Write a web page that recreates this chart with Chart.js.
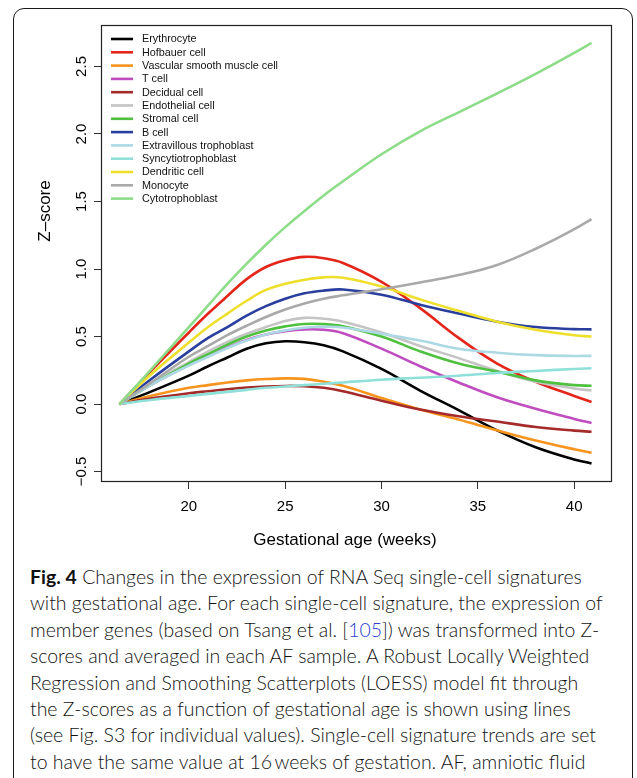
<!DOCTYPE html>
<html>
<head>
<meta charset="utf-8">
<script src="https://cdn.jsdelivr.net/npm/chart.js@4/dist/chart.umd.min.js"></script>
<style>
  html, body { margin: 0; padding: 0; background: #fff; }
  body { width: 637px; height: 778px; position: relative; overflow: hidden; }
  #frame {
    position: absolute; left: 13px; top: 8px; width: 620px; height: 820px;
    border: 1.5px solid #1a1a1a; border-radius: 11px; box-sizing: border-box;
  }
  #chartBox { position: absolute; left: 0; top: 0; width: 637px; height: 560px; }
  #caption {
    position: absolute; left: 30px; top: 564px;
    font-family: Lato, "Open Sans", sans-serif; font-weight: 300; color: #111;
    line-height: 26.4px; white-space: nowrap;
  }
  #caption b { font-weight: 700; }
  #caption .ref { color: #2a3fd0; }
</style>
</head>
<body>
<div id="frame"></div>
<div id="chartBox"><canvas id="chart" width="637" height="560"></canvas></div>
<div id="caption">
  <div class="ln"><b>Fig. 4</b> Changes in the expression of RNA Seq single-cell signatures</div>
  <div class="ln">with gestational age. For each single-cell signature, the expression of</div>
  <div class="ln">member genes (based on Tsang et al. [<span class="ref">105</span>]) was transformed into Z-</div>
  <div class="ln">scores and averaged in each AF sample. A Robust Locally Weighted</div>
  <div class="ln">Regression and Smoothing Scatterplots (LOESS) model fit through</div>
  <div class="ln">the Z-scores as a function of gestational age is shown using lines</div>
  <div class="ln">(see Fig. S3 for individual values). Single-cell signature trends are set</div>
  <div class="ln">to have the same value at 16&#8201;weeks of gestation. AF, amniotic fluid</div>
</div>
<script>
// Gestational age (weeks) at which each LOESS trend is sampled
const weeks = [16.4, 18, 20, 21, 22, 23, 24, 25, 26, 27, 28, 30, 32, 34, 36, 38, 40, 40.9];

// Z-score trends per single-cell signature
const erythrocyte     = [0, 0.09, 0.21, 0.28, 0.345, 0.41, 0.45, 0.465, 0.458, 0.435, 0.39, 0.26, 0.10, -0.045, -0.195, -0.32, -0.41, -0.44];
const hofbauer        = [0, 0.24, 0.53, 0.67, 0.80, 0.925, 1.015, 1.065, 1.09, 1.08, 1.045, 0.905, 0.71, 0.49, 0.30, 0.165, 0.06, 0.015];
const vascularSmooth  = [0, 0.06, 0.12, 0.14, 0.16, 0.175, 0.185, 0.19, 0.186, 0.165, 0.135, 0.045, -0.04, -0.115, -0.195, -0.27, -0.335, -0.36];
const tCell           = [0, 0.14, 0.29, 0.36, 0.42, 0.475, 0.515, 0.54, 0.553, 0.55, 0.525, 0.41, 0.28, 0.16, 0.05, -0.035, -0.11, -0.14];
const decidual        = [0, 0.04, 0.08, 0.095, 0.11, 0.122, 0.13, 0.134, 0.132, 0.12, 0.095, 0.025, -0.04, -0.09, -0.13, -0.17, -0.197, -0.205];
const endothelial     = [0, 0.15, 0.31, 0.39, 0.46, 0.52, 0.57, 0.615, 0.638, 0.632, 0.61, 0.53, 0.43, 0.34, 0.245, 0.165, 0.115, 0.10];
const stromal         = [0, 0.14, 0.30, 0.37, 0.44, 0.50, 0.545, 0.575, 0.593, 0.592, 0.575, 0.50, 0.39, 0.30, 0.24, 0.175, 0.14, 0.135];
const bCell           = [0, 0.18, 0.39, 0.49, 0.57, 0.655, 0.725, 0.78, 0.82, 0.84, 0.848, 0.81, 0.735, 0.67, 0.61, 0.57, 0.555, 0.553];
const extravillous    = [0, 0.14, 0.285, 0.35, 0.415, 0.47, 0.515, 0.545, 0.565, 0.572, 0.567, 0.52, 0.47, 0.41, 0.38, 0.362, 0.356, 0.357];
const syncytio        = [0, 0.03, 0.06, 0.075, 0.09, 0.105, 0.12, 0.13, 0.14, 0.15, 0.16, 0.18, 0.195, 0.21, 0.23, 0.245, 0.26, 0.265];
const dendritic       = [0, 0.215, 0.455, 0.57, 0.67, 0.765, 0.845, 0.89, 0.92, 0.938, 0.935, 0.87, 0.775, 0.69, 0.61, 0.55, 0.51, 0.50];
const monocyte        = [0, 0.155, 0.35, 0.43, 0.51, 0.58, 0.645, 0.70, 0.745, 0.78, 0.805, 0.85, 0.90, 0.955, 1.03, 1.15, 1.295, 1.37];
const cytotrophoblast = [0, 0.25, 0.57, 0.73, 0.89, 1.04, 1.18, 1.31, 1.43, 1.545, 1.65, 1.85, 2.02, 2.16, 2.30, 2.445, 2.60, 2.675];

const seriesNames = ['Erythrocyte', 'Hofbauer cell', 'Vascular smooth muscle cell', 'T cell', 'Decidual cell',
  'Endothelial cell', 'Stromal cell', 'B cell', 'Extravillous trophoblast', 'Syncytiotrophoblast',
  'Dendritic cell', 'Monocyte', 'Cytotrophoblast'];
const seriesValues = [erythrocyte, hofbauer, vascularSmooth, tCell, decidual, endothelial, stromal,
  bCell, extravillous, syncytio, dendritic, monocyte, cytotrophoblast];
const seriesColors = ['#000000', '#e32619', '#f7941e', '#bf4dbf', '#a52a2a', '#c4c4c4', '#50c040',
  '#2a3f9d', '#acd9e4', '#8fe0d9', '#eedf2c', '#a9a9a9', '#8ddc88'];

const xTicks = [20, 25, 30, 35, 40];
const yTicks = [-0.5, 0, 0.5, 1, 1.5, 2, 2.5];

const FONT = '"Liberation Sans", Arial, Helvetica, sans-serif';

const datasets = seriesNames.map((name, i) => ({
  label: name,
  data: weeks.map((w, k) => ({ x: w, y: seriesValues[i][k] })),
  borderColor: seriesColors[i],
  backgroundColor: seriesColors[i],
  borderWidth: 2.6,
  pointRadius: 0,
  tension: 0.4,
  fill: false,
  order: seriesNames.length - i   // later series painted over earlier ones
}));

// Box around the plotting region, legend and axis titles
const framePlugin = {
  id: 'framePlugin',
  afterDraw(chart) {
    const { ctx, chartArea: a } = chart;
    ctx.save();
    ctx.strokeStyle = '#222';
    ctx.lineWidth = 1.2;
    ctx.strokeRect(a.left + 0.5, a.top + 0.5, a.right - a.left, a.bottom - a.top);

    // legend
    ctx.font = '10.8px ' + FONT;
    ctx.textBaseline = 'middle';
    ctx.textAlign = 'left';
    chart.data.datasets.forEach((ds, i) => {
      const y = a.top + 14 + i * 13.3;
      ctx.strokeStyle = ds.borderColor;
      ctx.lineWidth = 2.6;
      ctx.beginPath();
      ctx.moveTo(a.left + 10, y);
      ctx.lineTo(a.left + 32, y);
      ctx.stroke();
      ctx.fillStyle = '#111';
      ctx.fillText(ds.label, a.left + 41, y + 0.5);
    });

    // axis titles
    ctx.fillStyle = '#000';
    ctx.font = '17px ' + FONT;
    ctx.textAlign = 'center';
    ctx.fillText('Gestational age (weeks)', 345, 540);
    ctx.translate(45, 211);
    ctx.rotate(-Math.PI / 2);
    ctx.fillText('Z\u2013score', 0, 0);
    ctx.restore();
  }
};

new Chart(document.getElementById('chart'), {
  type: 'line',
  data: { datasets },
  options: {
    responsive: false,
    devicePixelRatio: 1,
    animation: false,
    layout: { padding: { left: 0, top: 25, right: 26, bottom: 0 } },
    plugins: { legend: { display: false }, tooltip: { enabled: false } },
    scales: {
      x: {
        type: 'linear',
        min: 15.44, max: 41.91,
        afterBuildTicks: s => { s.ticks = xTicks.map(v => ({ value: v })); },
        afterFit: s => { s.height = 79; },
        grid: { drawOnChartArea: false, drawTicks: true, tickLength: 8, tickColor: '#333', lineWidth: 1 },
        border: { display: false },
        ticks: { color: '#000', font: { family: FONT, size: 15 }, padding: 9, maxRotation: 0, autoSkip: false }
      },
      y: {
        type: 'linear',
        min: -0.57, max: 2.807,
        afterBuildTicks: s => { s.ticks = yTicks.map(v => ({ value: v })); },
        afterFit: s => { s.width = 101; },
        grid: { drawOnChartArea: false, drawTicks: true, tickLength: 7, tickColor: '#333', lineWidth: 1 },
        border: { display: false },
        ticks: {
          color: '#000', font: { family: FONT, size: 15 }, padding: -3,
          minRotation: 90, maxRotation: 90, crossAlign: 'center', autoSkip: false,
          callback: v => v.toFixed(1).replace('-', '\u2212')
        }
      }
    }
  },
  plugins: [framePlugin]
});

// Size the caption so its longest line spans the text column
(function () {
  const cap = document.getElementById('caption');
  const lines = cap.querySelectorAll('.ln');
  cap.style.fontSize = '20px';
  let widest = 0;
  lines.forEach(l => { l.style.display = 'inline-block'; widest = Math.max(widest, l.getBoundingClientRect().width); });
  lines.forEach(l => { l.style.display = 'block'; });
  cap.style.fontSize = (20 * 573 / widest).toFixed(2) + 'px';
})();
</script>
</body>
</html>
